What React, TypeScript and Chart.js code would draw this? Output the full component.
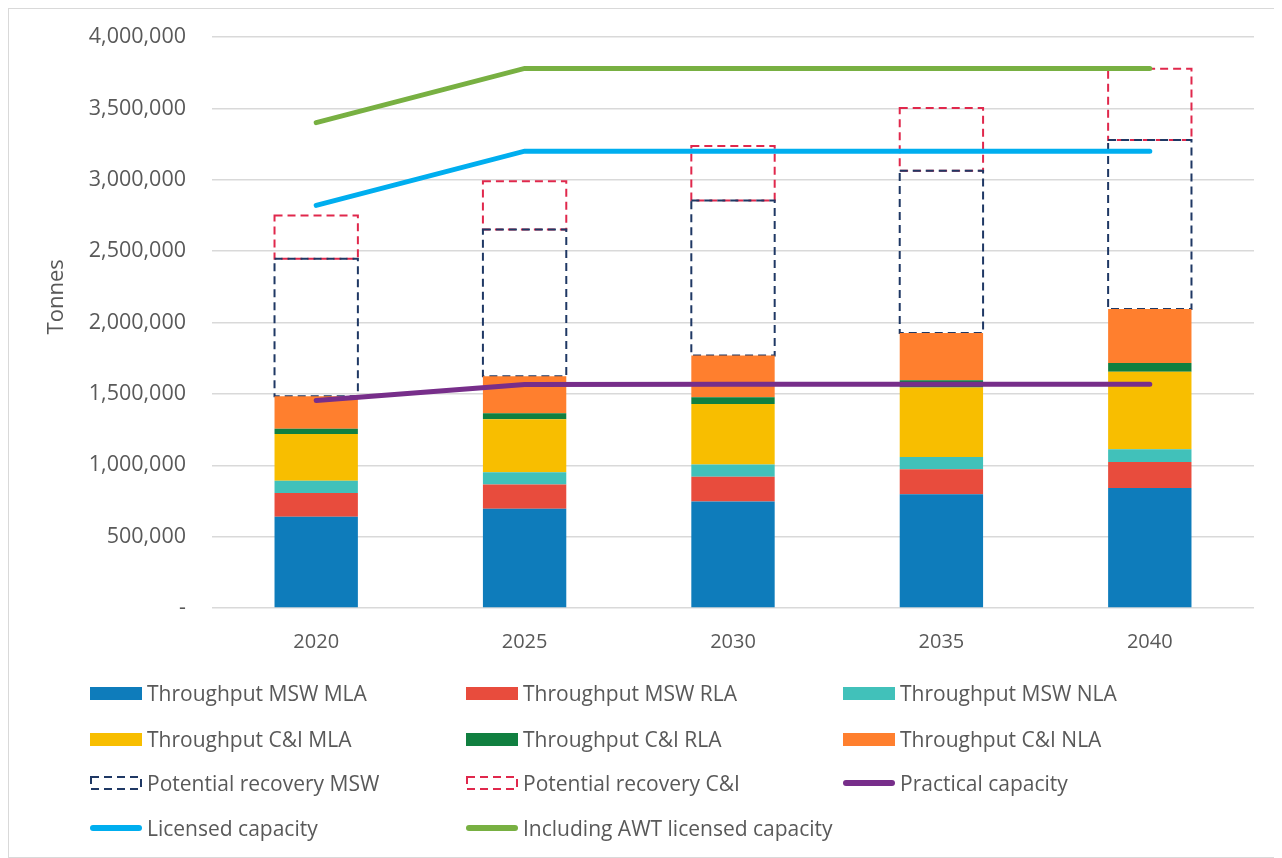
import React, { useEffect, useRef } from "react";
import { Chart, registerables } from "chart.js";

Chart.register(...registerables);

// Years on the x axis
const years = ["2020", "2025", "2030", "2035", "2040"];

// Throughput by stream (tonnes)
const mswMla = [640000, 695000, 746000, 797000, 840000];
const mswRla = [165000, 170000, 173000, 175000, 183000];
const mswNla = [86000, 86000, 86000, 86000, 89000];
const ciMla = [328000, 372000, 424000, 487000, 543000];
const ciRla = [37000, 42000, 48000, 50000, 61000];
const ciNla = [228000, 259000, 292000, 331000, 378000];

// Additional potential recovery stacked on top of throughput (tonnes)
const potentialMsw = [963000, 1028000, 1086000, 1137000, 1185000];
const potentialCi = [302000, 338000, 381000, 439000, 498000];

// Capacity lines (tonnes)
const practicalCapacity = [1454000, 1566000, 1568000, 1568000, 1568000];
const licensedCapacity = [2820000, 3200000, 3200000, 3200000, 3200000];
const awtLicensedCapacity = [3400000, 3780000, 3780000, 3780000, 3780000];

// Y axis tick values
const yTicks = [0, 500000, 1000000, 1500000, 2000000, 2500000, 3000000, 3500000, 4000000];

const FONT = "'Open Sans', 'DejaVu Sans', sans-serif";
const TEXT = "#595959";

type LegendItem = { label: string; color: string; kind: "box" | "dash" | "line" };

const legendItems: LegendItem[] = [
  { label: "Throughput MSW MLA", color: "#0E7CBB", kind: "box" },
  { label: "Throughput MSW RLA", color: "#E84C3D", kind: "box" },
  { label: "Throughput MSW NLA", color: "#41C1BA", kind: "box" },
  { label: "Throughput C&I MLA", color: "#F8BE00", kind: "box" },
  { label: "Throughput C&I RLA", color: "#107F40", kind: "box" },
  { label: "Throughput C&I NLA", color: "#FF7F2E", kind: "box" },
  { label: "Potential recovery MSW", color: "#1F3864", kind: "dash" },
  { label: "Potential recovery C&I", color: "#E0284C", kind: "dash" },
  { label: "Practical capacity", color: "#772E8A", kind: "line" },
  { label: "Licensed capacity", color: "#00AEEF", kind: "line" },
  { label: "Including AWT licensed capacity", color: "#78B042", kind: "line" },
];

// Draws dashed outlines for the "potential recovery" bar datasets,
// since bar elements have no native border dash support.
const dashedBars = {
  id: "dashedBars",
  afterDatasetDraw(chart: any, args: any) {
    const ds = chart.data.datasets[args.index];
    if (!ds.dashColor) return;
    const ctx = chart.ctx;
    ctx.save();
    ctx.strokeStyle = ds.dashColor;
    ctx.lineWidth = 2;
    ctx.setLineDash([8, 5]);
    for (const el of args.meta.data) {
      const { x, y, base, width } = el.getProps(["x", "y", "base", "width"], true);
      const left = x - width / 2;
      const top = Math.min(y, base);
      const h = Math.abs(base - y);
      ctx.strokeRect(left, top, width, h);
    }
    ctx.restore();
  },
};

// Rotated y axis title, placed a little above the axis middle
const axisTitle = {
  id: "axisTitle",
  afterDraw(chart: any) {
    const { ctx, chartArea } = chart;
    ctx.save();
    ctx.translate(48, chartArea.top + (chartArea.bottom - chartArea.top) * 0.455);
    ctx.rotate(-Math.PI / 2);
    ctx.fillStyle = TEXT;
    ctx.font = `22px ${FONT}`;
    ctx.textAlign = "center";
    ctx.textBaseline = "middle";
    ctx.fillText("Tonnes", 0, 0);
    ctx.restore();
  },
};

function Swatch({ item }: { item: LegendItem }) {
  if (item.kind === "box") {
    return <div style={{ width: 52, height: 13, background: item.color }} />;
  }
  if (item.kind === "dash") {
    return (
      <svg width={52} height={14}>
        <rect x={1} y={1} width={50} height={12} fill="none" stroke={item.color} strokeWidth={2} strokeDasharray="8 5" />
      </svg>
    );
  }
  return (
    <svg width={52} height={14}>
      <line x1={3} y1={7} x2={49} y2={7} stroke={item.color} strokeWidth={6} strokeLinecap="round" />
    </svg>
  );
}

export default function App() {
  const canvasRef = useRef<HTMLCanvasElement>(null);

  useEffect(() => {
    if (!canvasRef.current) return;
    const bar = (label: string, data: number[], color: string) => ({
      type: "bar" as const,
      label,
      data,
      backgroundColor: color,
      borderWidth: 0,
      stack: "bars",
      order: 2,
      barPercentage: 0.4,
      categoryPercentage: 1,
    });
    const dashed = (label: string, data: number[], color: string) => ({
      ...bar(label, data, "rgba(0,0,0,0)"),
      dashColor: color,
    });
    // each capacity line sits in its own stack so it is plotted at its own value
    const line = (label: string, data: number[], color: string) => ({
      type: "line" as const,
      label,
      data,
      stack: label,
      borderColor: color,
      backgroundColor: color,
      borderWidth: 5,
      borderCapStyle: "round" as const,
      pointRadius: 0,
      tension: 0,
      order: 1,
    });

    const chart = new Chart(canvasRef.current, {
      data: {
        labels: years,
        datasets: [
          bar("Throughput MSW MLA", mswMla, "#0E7CBB"),
          bar("Throughput MSW RLA", mswRla, "#E84C3D"),
          bar("Throughput MSW NLA", mswNla, "#41C1BA"),
          bar("Throughput C&I MLA", ciMla, "#F8BE00"),
          bar("Throughput C&I RLA", ciRla, "#107F40"),
          bar("Throughput C&I NLA", ciNla, "#FF7F2E"),
          dashed("Potential recovery MSW", potentialMsw, "#1F3864"),
          dashed("Potential recovery C&I", potentialCi, "#E0284C"),
          line("Practical capacity", practicalCapacity, "#772E8A"),
          line("Licensed capacity", licensedCapacity, "#00AEEF"),
          line("Including AWT licensed capacity", awtLicensedCapacity, "#78B042"),
        ] as any,
      },
      options: {
        animation: false,
        responsive: false,
        maintainAspectRatio: false,
        layout: { padding: { top: 28, right: 27, bottom: 181, left: 30 } },
        plugins: {
          legend: { display: false },
          tooltip: { enabled: false },
        },
        scales: {
          x: {
            stacked: true,
            grid: { display: false, drawTicks: false },
            border: { display: false },
            ticks: { color: TEXT, font: { family: FONT, size: 20 }, padding: 22 },
          },
          y: {
            stacked: true,
            min: 0,
            max: 4000000,
            afterBuildTicks: (scale: any) => {
              scale.ticks = yTicks.map((v) => ({ value: v }));
            },
            afterFit: (scale: any) => {
              scale.width = 173;
              scale.paddingTop = 0;
              scale.paddingBottom = 0;
            },
            grid: { color: "#D9D9D9", lineWidth: 1.5, drawTicks: false },
            border: { display: false },
            ticks: {
              color: TEXT,
              font: { family: FONT, size: 21.5 },
              padding: 26,
              callback: (v: any) => (Number(v) === 0 ? "-" : Number(v).toLocaleString("en-US")),
            },
          },
        },
      },
      plugins: [dashedBars, axisTitle],
    });
    return () => chart.destroy();
  }, []);

  const cols = [81, 457, 834];
  const rows = [684, 730, 774, 819];

  return (
    <div
      style={{
        position: "relative",
        width: 1274,
        height: 850,
        border: "1px solid #D9D9D9",
        boxSizing: "border-box",
        background: "#fff",
      }}
    >
      <canvas ref={canvasRef} width={1272} height={848} style={{ display: "block" }} />
      {legendItems.map((item, i) => {
        const col = i % 3;
        const row = Math.floor(i / 3);
        return (
          <div
            key={item.label}
            style={{
              position: "absolute",
              left: cols[col],
              top: rows[row] - 14,
              height: 28,
              display: "flex",
              alignItems: "center",
              gap: 5,
              fontFamily: FONT,
              fontSize: 21,
              color: TEXT,
              whiteSpace: "nowrap",
            }}
          >
            <Swatch item={item} />
            <span>{item.label}</span>
          </div>
        );
      })}
    </div>
  );
}
